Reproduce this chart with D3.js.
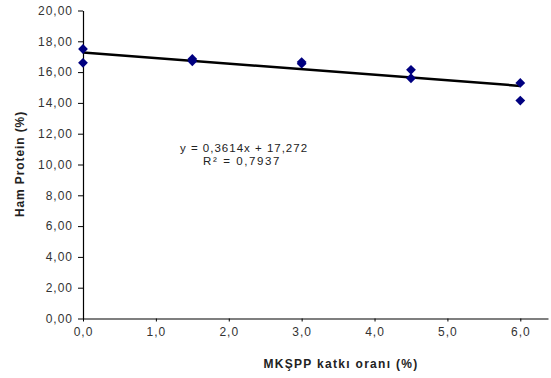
<!DOCTYPE html>
<html><head><meta charset="utf-8">
<script src="https://cdn.jsdelivr.net/npm/d3@7"></script>
<style>body{margin:0;background:#fff}svg{display:block}</style>
</head><body>
<svg id="c" width="551" height="378"></svg>
<script>
const doses = [0, 0, 1.5, 1.5, 3.0, 3.0, 4.5, 4.5, 6.0, 6.0];
const protein = [17.5, 16.6, 16.85, 16.7, 16.65, 16.55, 16.15, 15.6, 15.3, 14.15];
const slope = -0.3614, intercept = 17.272;
const xTicks = [0, 1, 2, 3, 4, 5, 6];
const yTicks = [0, 2, 4, 6, 8, 10, 12, 14, 16, 18, 20];
const eqLine1 = "y =  0,3614x + 17,272";
const eqLine2 = "R² = 0,7937";
const xTitle = "MKŞPP katkı oranı (%)";
const yTitle = "Ham Protein (%)";

const svg = d3.select("#c");
const font = "Liberation Sans, Arial, sans-serif";
const x = d3.scaleLinear().domain([0, 6.38]).range([83, 548]);
const y = d3.scaleLinear().domain([0, 20]).range([318.5, 10.5]);
const comma = f => s => d3.format(f)(s).replace(".", ",");

const yAxis = svg.append("g").attr("transform", `translate(${x(0)},0)`)
  .call(d3.axisLeft(y).tickValues(yTicks).tickFormat(comma(".2f")).tickSize(5).tickPadding(5).tickSizeOuter(0));
const xAxis = svg.append("g").attr("transform", `translate(0,${y(0)})`)
  .call(d3.axisBottom(x).tickValues(xTicks).tickFormat(comma(".1f")).tickSize(3).tickPadding(6).tickSizeOuter(0));
[yAxis, xAxis].forEach(g => {
  g.selectAll("path.domain").attr("stroke", "#000").attr("stroke-width", 1.2);
  g.selectAll(".tick line").attr("stroke", "#000");
  g.selectAll("text").attr("font-family", font).attr("font-size", 12)
    .attr("letter-spacing", 1).attr("fill", "#333");
});

// trendline
svg.append("line")
  .attr("x1", x(0)).attr("y1", y(intercept))
  .attr("x2", x(6)).attr("y2", y(intercept + slope * 6))
  .attr("stroke", "#000").attr("stroke-width", 2.5);

// points
svg.append("g").selectAll("path").data(doses.map((d, i) => [d, protein[i]]))
  .join("path")
  .attr("d", d3.symbol(d3.symbolSquare, 48))
  .attr("transform", d => `translate(${x(d[0])},${y(d[1])}) rotate(45)`)
  .attr("fill", "#000080");

svg.append("text").attr("x", 180).attr("y", 152).attr("font-family", font).attr("font-size", 11.5)
  .attr("letter-spacing", 1).attr("fill", "#222").text(eqLine1);
svg.append("text").attr("x", 203).attr("y", 165).attr("font-family", font).attr("font-size", 11.5)
  .attr("letter-spacing", 1.6).attr("fill", "#222").text(eqLine2);

svg.append("text").attr("x", 341).attr("y", 368).attr("text-anchor", "middle")
  .attr("font-family", font).attr("font-size", 12).attr("font-weight", "bold")
  .attr("letter-spacing", 1.3).attr("fill", "#222").text(xTitle);
svg.append("text").attr("transform", "translate(24,164) rotate(-90)").attr("text-anchor", "middle")
  .attr("font-family", font).attr("font-size", 12).attr("font-weight", "bold")
  .attr("letter-spacing", 0.9).attr("fill", "#222").text(yTitle);
</script>
</body></html>
